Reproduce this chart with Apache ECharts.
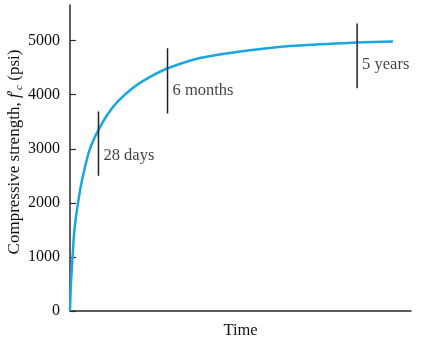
<!DOCTYPE html>
<html><head><meta charset="utf-8">
<script src="https://cdn.jsdelivr.net/npm/echarts@6/dist/echarts.min.js"></script>
<style>html,body{margin:0;padding:0;background:#fff}#c{width:428px;height:342px}</style>
</head><body><div id="c"></div>
<script>
// Strength curve (time in arbitrary units 0..100, strength in psi)
const timeVals = [0, 0.2, 0.45, 0.75, 1.3, 2.35, 3.8, 5.85, 8.2, 10.85, 14.1, 18.5, 23.5, 28.7, 38.1, 49.9, 64.5, 84.2, 94.7];
const strengthVals = [0, 400, 700, 1000, 1500, 2000, 2500, 3000, 3330, 3620, 3880, 4130, 4330, 4490, 4680, 4800, 4900, 4965, 4985];
// Age markers
const markerNames = ['28 days', '6 months', '5 years'];
const markerTimes = [8.35, 28.6, 84.2];
const markerLow = [2500, 3655, 4120];
const markerHigh = [3690, 4860, 5320];
const markerLabelY = [2880, 4070, 4550];
// Axis ticks
const yTicks = [0, 1000, 2000, 3000, 4000, 5000];

const serif = '"Liberation Serif","DejaVu Serif",serif';
const axisColor = '#2a2a2a';
const txt = '#111';

const series = [{
  type: 'line',
  data: timeVals.map((t, i) => [t, strengthVals[i]]),
  smooth: 0.35,
  symbol: 'none',
  lineStyle: { color: '#19a6e2', width: 2.5 },
  z: 3
}];
markerNames.forEach((n, i) => {
  series.push({
    type: 'line',
    data: [[markerTimes[i], markerLow[i]], [markerTimes[i], markerHigh[i]]],
    symbol: 'none',
    lineStyle: { color: '#222', width: 1.5 },
    z: 4
  });
});
series.push({
  type: 'scatter',
  symbolSize: 0,
  data: markerNames.map((n, i) => ({ name: n, value: [markerTimes[i], markerLabelY[i]] })),
  label: {
    show: true, position: 'right', distance: 5,
    formatter: p => p.name,
    fontFamily: serif, fontSize: 16.5, color: txt
  }
});

const chart = echarts.init(document.getElementById('c'), null, { renderer: 'canvas' });
chart.setOption({
  animation: false,
  grid: { left: 70, right: 17, top: 5, bottom: 31, containLabel: false, outerBoundsMode: 'none' },
  xAxis: {
    type: 'value', min: 0, max: 100,
    name: 'Time', nameLocation: 'middle', nameGap: 11,
    nameTextStyle: { fontFamily: serif, fontSize: 16.5, color: txt },
    axisLine: { show: true, lineStyle: { color: axisColor, width: 1.5 } },
    axisTick: { show: false }, axisLabel: { show: false }, splitLine: { show: false }
  },
  yAxis: {
    type: 'value', min: 0, max: 5660,
    name: 'Compressive strength, {i|f}{p|′}{s|c} (psi)',
    nameLocation: 'middle', nameGap: 45, nameRotate: 90, nameMoveOverlap: false,
    nameTextStyle: {
      fontFamily: serif, fontSize: 17, color: txt, lineHeight: 20, padding: [0, 0, 0, 12],
      rich: {
        i: { fontFamily: serif, fontSize: 17, fontStyle: 'italic', color: txt, lineHeight: 20 },
        p: { fontFamily: serif, fontSize: 16, color: txt, lineHeight: 20 },
        s: { fontFamily: serif, fontSize: 11, fontStyle: 'italic', color: txt, verticalAlign: 'bottom', lineHeight: 20 }
      }
    },
    axisLine: { show: true, lineStyle: { color: axisColor, width: 1.5 } },
    axisTick: { show: true, inside: true, length: 6, customValues: yTicks, lineStyle: { color: axisColor, width: 1.2 } },
    axisLabel: { customValues: yTicks, margin: 10, formatter: v => String(v), fontFamily: serif, fontSize: 16, color: txt },
    splitLine: { show: false }
  },
  series: series
});
</script>
</body></html>
